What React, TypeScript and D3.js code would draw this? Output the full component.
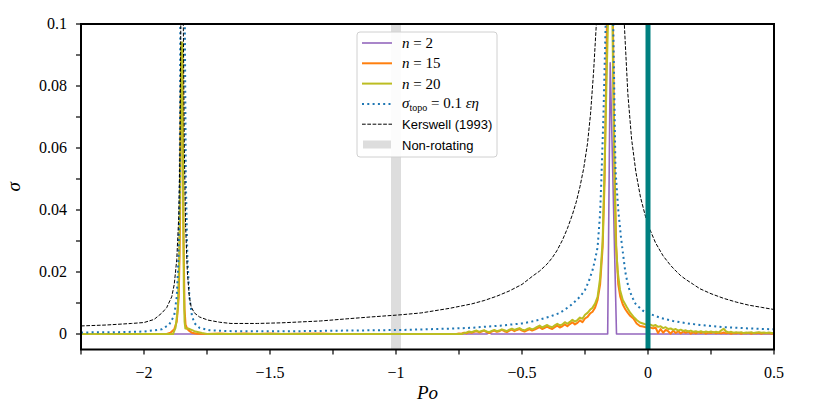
import * as d3 from 'd3';

// Po axis is x, growth rate sigma is y
const xTicks = [-2.25, -2, -1.75, -1.5, -1.25, -1, -0.75, -0.5, -0.25, 0, 0.25, 0.5];
const xTickLabels: [number, string][] = [
  [-2, '−2'], [-1.5, '−1.5'], [-1, '−1'], [-0.5, '−0.5'], [0, '0'], [0.5, '0.5'],
];
const yTicks = [0, 0.01, 0.02, 0.03, 0.04, 0.05, 0.06, 0.07, 0.08, 0.09, 0.1];
const yTickLabels: [number, string][] = [
  [0, '0'], [0.02, '0.02'], [0.04, '0.04'], [0.06, '0.06'], [0.08, '0.08'], [0.1, '0.1'],
];

const nonRotatingPo = -1;
const zeroPo = 0;

const n2: [number, number][] = [
  [-2.25, 0], [-0.64, 0], [-0.628, 0.0005], [-0.622, 0], [-0.16, 0], [-0.15, 0.0875],
  [-0.125, 0], [0.5, 0],
];

const n15: [number, number][] = [
  [-2.25, 0], [-1.91, 0], [-1.895, 0.0004], [-1.88, 0.0015], [-1.87, 0.004], [-1.862, 0.012],
  [-1.857, 0.035], [-1.853, 0.09], [-1.848, 0.09], [-1.843, 0.03], [-1.839, 0.008],
  [-1.835, 0.003], [-1.828, 0.0016], [-1.82, 0.001], [-1.81, 0.0004], [-1.79, 0.0001],
  [-1.75, 0], [-1.7, 0.0002], [-1.66, 0], [-1.6, 0.0002], [-1.55, 0], [-1.5, 0.0002],
  [-1.45, 0], [-1.4, 0.0001], [-1.3, 0.0002], [-1.25, 0], [-0.76, 0],
  [-0.75, 0.0002], [-0.74, 0.0001], [-0.73, 0.0004], [-0.72, 0.0002], [-0.71, 0.0006],
  [-0.7, 0.0004], [-0.69, 0.0007], [-0.68, 0.0009], [-0.67, 0.0005], [-0.66, 0.0008],
  [-0.65, 0.0011], [-0.64, 0.0006], [-0.63, 0.0003], [-0.62, 0.0008], [-0.61, 0.0011],
  [-0.6, 0.0007], [-0.59, 0.0009], [-0.58, 0.0013], [-0.57, 0.0009], [-0.56, 0.0006],
  [-0.55, 0.0011], [-0.54, 0.0014], [-0.53, 0.0009], [-0.52, 0.0013], [-0.51, 0.0016],
  [-0.5, 0.0011], [-0.49, 0.0008], [-0.48, 0.0012], [-0.47, 0.0015], [-0.46, 0.0011],
  [-0.45, 0.0014], [-0.44, 0.0018], [-0.43, 0.0022], [-0.42, 0.0016], [-0.41, 0.002],
  [-0.4, 0.0024], [-0.39, 0.0019], [-0.38, 0.0016], [-0.37, 0.0022], [-0.36, 0.0027],
  [-0.35, 0.0021], [-0.34, 0.0025], [-0.33, 0.0031], [-0.32, 0.0025], [-0.31, 0.0032],
  [-0.3, 0.0038], [-0.29, 0.0031], [-0.28, 0.0036], [-0.27, 0.0044], [-0.26, 0.0038],
  [-0.25, 0.005], [-0.24, 0.0055], [-0.23, 0.0066], [-0.22, 0.0072], [-0.21, 0.0085],
  [-0.2, 0.011], [-0.19, 0.016], [-0.18, 0.028], [-0.172, 0.05], [-0.163, 0.1],
  [-0.158, 0.14], [-0.143, 0.14], [-0.139, 0.1], [-0.133, 0.055], [-0.126, 0.028],
  [-0.118, 0.016], [-0.11, 0.012], [-0.1, 0.0095], [-0.09, 0.008], [-0.08, 0.0068],
  [-0.07, 0.0058], [-0.058, 0.005], [-0.045, 0.0034], [-0.032, 0.0026], [-0.02, 0.0024],
  [-0.01, 0.0022], [0, 0.0023], [0.01, 0.0021], [0.02, 0.0018], [0.03, 0.0021],
  [0.04, 0.0003], [0.05, 0.0016], [0.06, 0.0004], [0.07, 0.0013], [0.08, 0.0009],
  [0.09, 0.0001], [0.1, 0.0011], [0.11, 0.0003], [0.12, 0.0009], [0.13, 0.0002],
  [0.14, 0.0008], [0.15, 0.0004], [0.16, 0.0008], [0.17, 0.0001], [0.18, 0.0006],
  [0.19, 0.0002], [0.2, 0.0007], [0.21, 0.0003], [0.22, 0.0006], [0.23, 0.0001],
  [0.24, 0.0005], [0.25, 0.0003], [0.26, 0.0006], [0.27, 0.0002], [0.28, 0.0004],
  [0.29, 0.0002], [0.3, 0.0005], [0.31, 0.0002], [0.32, 0.0004], [0.33, 0.0001],
  [0.34, 0.0003], [0.35, 0.0002], [0.36, 0.0004], [0.37, 0.0001], [0.38, 0.0003],
  [0.39, 0.0002], [0.4, 0.0004], [0.41, 0.0001], [0.42, 0.0003], [0.43, 0.0002],
  [0.44, 0.0004], [0.45, 0.0001], [0.46, 0.0003], [0.47, 0.0002], [0.48, 0.0003],
  [0.49, 0.0001], [0.5, 0.0002],
];

const n20: [number, number][] = [
  [-2.25, 0], [-1.885, 0], [-1.875, 0.002], [-1.866, 0.008], [-1.86, 0.025],
  [-1.855, 0.06], [-1.852, 0.094], [-1.848, 0.094], [-1.845, 0.05], [-1.842, 0.015],
  [-1.839, 0.004], [-1.836, 0.0018], [-1.825, 0.0018], [-1.8, 0.0009], [-1.77, 0.0003],
  [-1.75, 0], [-0.74, 0],
  [-0.73, 0.0003], [-0.72, 0.0005], [-0.71, 0.0008], [-0.7, 0.0006], [-0.69, 0.0009],
  [-0.68, 0.0011], [-0.67, 0.0007], [-0.66, 0.001], [-0.65, 0.0012], [-0.64, 0.0008],
  [-0.63, 0.0006], [-0.62, 0.001], [-0.61, 0.0013], [-0.6, 0.0009], [-0.59, 0.0011],
  [-0.58, 0.0015], [-0.57, 0.0012], [-0.56, 0.0009], [-0.55, 0.0014], [-0.54, 0.0017],
  [-0.53, 0.0013], [-0.52, 0.0016], [-0.51, 0.0019], [-0.5, 0.0014], [-0.49, 0.0012],
  [-0.48, 0.0016], [-0.47, 0.0019], [-0.46, 0.0015], [-0.45, 0.0018], [-0.44, 0.0023],
  [-0.43, 0.0027], [-0.42, 0.0021], [-0.41, 0.0025], [-0.4, 0.0029], [-0.39, 0.0024],
  [-0.38, 0.0022], [-0.37, 0.0028], [-0.36, 0.0033], [-0.35, 0.0028], [-0.34, 0.0031],
  [-0.33, 0.0038], [-0.32, 0.0033], [-0.31, 0.0039], [-0.3, 0.0046], [-0.29, 0.004],
  [-0.28, 0.0045], [-0.27, 0.0053], [-0.26, 0.0049], [-0.25, 0.0062], [-0.24, 0.0068],
  [-0.23, 0.0078], [-0.22, 0.0085], [-0.21, 0.0098], [-0.2, 0.012], [-0.19, 0.018],
  [-0.18, 0.03], [-0.172, 0.055], [-0.165, 0.08], [-0.159, 0.1], [-0.155, 0.14],
  [-0.145, 0.14], [-0.141, 0.1], [-0.135, 0.06], [-0.128, 0.03], [-0.12, 0.02],
  [-0.111, 0.0142], [-0.1, 0.011], [-0.085, 0.0088], [-0.07, 0.0068], [-0.058, 0.0056],
  [-0.045, 0.0045], [-0.032, 0.0037], [-0.02, 0.0034], [-0.01, 0.0031], [0, 0.0031],
  [0.01, 0.003], [0.02, 0.0026], [0.03, 0.0029], [0.04, 0.0023], [0.05, 0.0025],
  [0.06, 0.0019], [0.07, 0.0022], [0.08, 0.0016], [0.09, 0.0018], [0.1, 0.0013],
  [0.11, 0.0016], [0.12, 0.0011], [0.13, 0.0014], [0.14, 0.001], [0.15, 0.0012],
  [0.16, 0.0008], [0.17, 0.0011], [0.18, 0.0007], [0.19, 0.0009], [0.2, 0.0006],
  [0.21, 0.0009], [0.22, 0.0005], [0.23, 0.0008], [0.24, 0.0006], [0.25, 0.0008],
  [0.26, 0.0005], [0.27, 0.0007], [0.28, 0.0005], [0.29, 0.0011], [0.3, 0.0017],
  [0.31, 0.0008], [0.32, 0.0005], [0.33, 0.0007], [0.34, 0.0004], [0.35, 0.0006],
  [0.36, 0.0004], [0.37, 0.0006], [0.38, 0.0003], [0.39, 0.0005], [0.4, 0.0004],
  [0.41, 0.0006], [0.42, 0.0003], [0.43, 0.0005], [0.44, 0.0006], [0.45, 0.0004],
  [0.46, 0.0005], [0.47, 0.0003], [0.48, 0.0005], [0.49, 0.0003], [0.5, 0.0003],
];

const sigmaTopo: [number, number][] = [
  [-2.25, 0.0005], [-2.1, 0.0006], [-2, 0.0008], [-1.93, 0.0015], [-1.9, 0.003],
  [-1.88, 0.006], [-1.87, 0.012], [-1.863, 0.025], [-1.858, 0.05], [-1.856, 0.1],
  [-1.853, 0.2], [-1.843, 0.2], [-1.838, 0.1], [-1.834, 0.05], [-1.828, 0.025],
  [-1.82, 0.012], [-1.81, 0.006], [-1.8, 0.0035], [-1.78, 0.002], [-1.74, 0.0012],
  [-1.65, 0.0009], [-1.4, 0.0009], [-1.2, 0.0011], [-0.98, 0.0013], [-0.8, 0.0017],
  [-0.7, 0.002], [-0.587, 0.0027], [-0.5, 0.0034], [-0.45, 0.0042], [-0.39, 0.0056],
  [-0.35, 0.0068], [-0.31, 0.009], [-0.28, 0.0112], [-0.265, 0.0125], [-0.25, 0.0142],
  [-0.235, 0.017], [-0.22, 0.0206], [-0.21, 0.024], [-0.2, 0.028], [-0.19, 0.039],
  [-0.185, 0.05], [-0.177, 0.07], [-0.168, 0.1], [-0.16, 0.15], [-0.143, 0.15],
  [-0.138, 0.1], [-0.129, 0.053], [-0.118, 0.04], [-0.107, 0.031], [-0.09, 0.02],
  [-0.08, 0.016], [-0.071, 0.0135], [-0.06, 0.0115], [-0.05, 0.0098], [-0.035, 0.0086],
  [-0.02, 0.0075], [0.01, 0.0064], [0.05, 0.0052], [0.1, 0.0042], [0.15, 0.0035],
  [0.206, 0.0029], [0.3, 0.0022], [0.4, 0.0018], [0.5, 0.0015],
];

const kerswell: [number, number][] = [
  [-2.25, 0.0026], [-2.15, 0.0029], [-2.05, 0.0034], [-2, 0.0037], [-1.96, 0.0047],
  [-1.93, 0.0067], [-1.91, 0.0085], [-1.89, 0.012], [-1.88, 0.016], [-1.87, 0.024],
  [-1.862, 0.038], [-1.857, 0.06], [-1.854, 0.1], [-1.851, 0.16], [-1.847, 0.16],
  [-1.844, 0.1], [-1.84, 0.06], [-1.835, 0.035], [-1.828, 0.02], [-1.82, 0.012],
  [-1.813, 0.0088], [-1.8, 0.0068], [-1.78, 0.0055], [-1.747, 0.0045], [-1.7, 0.0038],
  [-1.655, 0.0034], [-1.55, 0.0034], [-1.456, 0.0036], [-1.3, 0.0042], [-1.194, 0.0049],
  [-1.1, 0.0055], [-0.98, 0.0062], [-0.9, 0.0068], [-0.786, 0.0083], [-0.7, 0.0097],
  [-0.65, 0.0108], [-0.6, 0.0122], [-0.55, 0.0139], [-0.5, 0.016], [-0.456, 0.0188],
  [-0.43, 0.0203], [-0.4, 0.0226], [-0.38, 0.0246], [-0.362, 0.0268], [-0.34, 0.0302],
  [-0.32, 0.034], [-0.3, 0.0385], [-0.285, 0.0425], [-0.27, 0.0475], [-0.255, 0.0535],
  [-0.24, 0.0615], [-0.228, 0.071], [-0.216, 0.0845], [-0.205, 0.1], [-0.195, 0.125],
  [-0.185, 0.16], [-0.115, 0.16], [-0.105, 0.125], [-0.094, 0.1], [-0.08, 0.0775],
  [-0.065, 0.0628], [-0.048, 0.0522], [-0.03, 0.0442], [-0.01, 0.0379], [0.006, 0.034],
  [0.03, 0.0294], [0.06, 0.0252], [0.09, 0.0221], [0.111, 0.0203], [0.13, 0.0188],
  [0.15, 0.0176], [0.18, 0.016], [0.206, 0.0146], [0.25, 0.013], [0.3, 0.0115],
  [0.35, 0.0103], [0.4, 0.0093], [0.45, 0.0086], [0.5, 0.0079],
];

const W = 814;
const H = 407;
const plot = { left: 81, right: 774, top: 24, bottom: 349.5 };

const serif = '"Liberation Serif", "DejaVu Serif", serif';
const sans = '"Liberation Sans", Arial, sans-serif';

export default function App() {
  const x = d3.scaleLinear().domain([-2.25, 0.5]).range([plot.left, plot.right]);
  const y = d3.scaleLinear().domain([-0.005, 0.1]).range([plot.bottom, plot.top]);
  const line = d3
    .line<[number, number]>()
    .x((d) => x(d[0]))
    .y((d) => y(d[1]));

  const series = [
    { data: n2, color: '#9467bd', width: 1.6, dash: undefined },
    { data: n15, color: '#ff7f0e', width: 2, dash: undefined },
    { data: n20, color: '#bcbd22', width: 2, dash: undefined },
    { data: sigmaTopo, color: '#1f77b4', width: 2, dash: '2,3.3' },
    { data: kerswell, color: '#000000', width: 1, dash: '3.7,1.6' },
  ];

  const legendX = 357;
  const legendY = 32;
  const rowY = (i: number) => legendY + 11 + i * 20.3;

  return (
    <svg width={W} height={H} style={{ position: 'absolute', left: 0, top: 0, background: '#fff' }}>
      <defs>
        <clipPath id="plotClip">
          <rect x={plot.left} y={plot.top} width={plot.right - plot.left} height={plot.bottom - plot.top} />
        </clipPath>
      </defs>

      {/* non-rotating band */}
      <rect
        x={x(nonRotatingPo) - 5}
        y={plot.top}
        width={10}
        height={plot.bottom - plot.top}
        fill="#dddddd"
      />

      <g clipPath="url(#plotClip)">
        {series.map((s, i) => (
          <path
            key={i}
            d={line(s.data) ?? undefined}
            fill="none"
            stroke={s.color}
            strokeWidth={s.width}
            strokeDasharray={s.dash}
            strokeLinejoin="round"
          />
        ))}
        <line x1={x(zeroPo)} x2={x(zeroPo)} y1={plot.top} y2={plot.bottom} stroke="#008080" strokeWidth={5} />
      </g>

      {/* frame */}
      <rect
        x={plot.left}
        y={plot.top}
        width={plot.right - plot.left}
        height={plot.bottom - plot.top}
        fill="none"
        stroke="#000"
        strokeWidth={2}
      />

      {/* x axis */}
      {xTicks.map((t) => (
        <line key={t} x1={x(t)} x2={x(t)} y1={plot.bottom} y2={plot.bottom + 5} stroke="#000" strokeWidth={1.2} />
      ))}
      {xTickLabels.map(([t, s]) => (
        <text key={t} x={x(t)} y={378} textAnchor="middle" fontFamily={serif} fontSize={16}>
          {s}
        </text>
      ))}
      <text x={(plot.left + plot.right) / 2} y={399} textAnchor="middle" fontFamily={serif} fontSize={19} fontStyle="italic">
        Po
      </text>

      {/* y axis */}
      {yTicks.map((t) => (
        <line key={t} x1={plot.left - 5} x2={plot.left} y1={y(t)} y2={y(t)} stroke="#000" strokeWidth={1.2} />
      ))}
      {yTickLabels.map(([t, s]) => (
        <text key={t} x={67} y={y(t) + 5} textAnchor="end" fontFamily={serif} fontSize={16}>
          {s}
        </text>
      ))}
      <text
        transform={`translate(20,${(plot.top + plot.bottom) / 2}) rotate(-90)`}
        textAnchor="middle"
        fontFamily={serif}
        fontSize={19}
        fontStyle="italic"
      >
        σ
      </text>

      {/* legend */}
      <rect x={legendX} y={legendY} width={140} height={125} rx={3} fill="#fff" fillOpacity={0.9} stroke="#d0d0d0" strokeWidth={1} />
      {series.map((s, i) => (
        <line
          key={i}
          x1={legendX + 5}
          x2={legendX + 35}
          y1={rowY(i)}
          y2={rowY(i)}
          stroke={s.color}
          strokeWidth={s.width}
          strokeDasharray={s.dash}
        />
      ))}
      <rect x={legendX + 6} y={rowY(5) - 4} width={28} height={8} fill="#dddddd" />
      <g fontFamily={serif} fontSize={15}>
        <text x={legendX + 45} y={rowY(0) + 5}>
          <tspan fontStyle="italic">n</tspan> = 2
        </text>
        <text x={legendX + 45} y={rowY(1) + 5}>
          <tspan fontStyle="italic">n</tspan> = 15
        </text>
        <text x={legendX + 45} y={rowY(2) + 5}>
          <tspan fontStyle="italic">n</tspan> = 20
        </text>
        <text x={legendX + 45} y={rowY(3) + 4}>
          <tspan fontStyle="italic">σ</tspan>
          <tspan fontSize={10} dy={3}>topo</tspan>
          <tspan dy={-3}> = 0.1 </tspan>
          <tspan fontStyle="italic">εη</tspan>
        </text>
      </g>
      <g fontFamily={sans} fontSize={13}>
        <text x={legendX + 45} y={rowY(4) + 5}>Kerswell (1993)</text>
        <text x={legendX + 45} y={rowY(5) + 5}>Non-rotating</text>
      </g>
    </svg>
  );
}
